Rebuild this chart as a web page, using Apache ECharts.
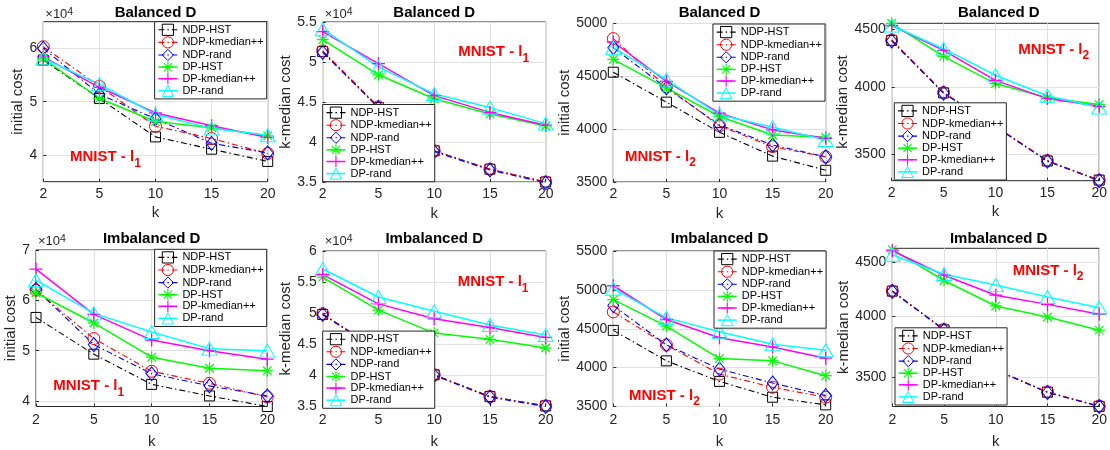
<!DOCTYPE html>
<html><head><meta charset="utf-8">
<script src="https://cdn.jsdelivr.net/npm/echarts@6/dist/echarts.min.js"></script>
<style>html,body{margin:0;padding:0;background:#fff}#c{width:1110px;height:450px}</style>
</head><body><div id="c"></div>
<script>
// ---------------- DATA ----------------
const kLabels = ['2', '5', '10', '15', '20'];
const methodNames = ['NDP-HST', 'NDP-kmedian++', 'NDP-rand', 'DP-HST', 'DP-kmedian++', 'DP-rand'];
const panelTitles = ['Balanced D', 'Balanced D', 'Balanced D', 'Balanced D',
                     'Imbalanced D', 'Imbalanced D', 'Imbalanced D', 'Imbalanced D'];
const panelYNames = ['initial cost', 'k-median cost', 'initial cost', 'k-median cost',
                     'initial cost', 'k-median cost', 'initial cost', 'k-median cost'];
const panelNormIndex = ['1', '1', '2', '2', '1', '1', '2', '2'];   // MNIST - l_n
const panelYTicks = [
  [40000, 50000, 60000],
  [35000, 40000, 45000, 50000, 55000],
  [3500, 4000, 4500, 5000],
  [3500, 4000, 4500],
  [40000, 50000, 60000, 70000],
  [35000, 40000, 45000, 50000, 55000, 60000],
  [3500, 4000, 4500, 5000, 5500],
  [3500, 4000, 4500]
];
const panelYRange = [[35000, 65000], [35000, 55000], [3500, 5000], [3318, 4550],
                     [38900, 70000], [35000, 60000], [3500, 5500], [3284, 4635]];
const panelScaled = [true, true, false, false, true, true, false, false]; // x10^4 labels
const panelLog = [false, false, false, true, false, false, false, true];

// rows: NDP-HST, NDP-kmedian++, NDP-rand, DP-HST, DP-kmedian++, DP-rand
const balancedInitL1 = [
  [57800, 50600, 43400, 41100, 38800],
  [60300, 52900, 45400, 43100, 40300],
  [60000, 51400, 46800, 42200, 40400],
  [58100, 50600, 46300, 45100, 43600],
  [58400, 52700, 47900, 45500, 43300],
  [58100, 53300, 47600, 45000, 43700]
];
const balancedKmedL1 = [
  [51300, 44300, 38900, 36600, 35000],
  [51400, 44400, 38900, 36600, 35000],
  [51200, 44300, 38800, 36500, 34900],
  [52800, 48400, 45400, 43500, 42000],
  [53800, 49800, 45800, 43700, 42100],
  [54100, 49400, 46000, 44300, 42300]
];
const balancedInitL2 = [
  [4539, 4256, 3970, 3745, 3611],
  [4857, 4400, 4031, 3834, 3738],
  [4771, 4390, 4040, 3850, 3738],
  [4660, 4390, 4120, 3945, 3923],
  [4825, 4453, 4151, 3993, 3913],
  [4771, 4469, 4136, 4018, 3897]
];
const balancedKmedL2 = [
  [4396, 3957, 3700, 3452, 3322],
  [4400, 3960, 3702, 3455, 3320],
  [4392, 3955, 3698, 3450, 3318],
  [4550, 4258, 4032, 3918, 3866],
  [4530, 4309, 4058, 3912, 3852],
  [4530, 4324, 4100, 3934, 3843]
];
const imbalancedInitL1 = [
  [56600, 49300, 43300, 41000, 38900],
  [62000, 52400, 45900, 43500, 40800],
  [62200, 51200, 45400, 43000, 41000],
  [61500, 55500, 48700, 46500, 46000],
  [66200, 57200, 52100, 50000, 48300],
  [64000, 57400, 53700, 50400, 50000]
];
const imbalancedKmedL1 = [
  [49800, 44000, 40100, 36600, 35100],
  [49900, 44100, 40100, 36600, 35100],
  [49800, 44000, 40000, 36500, 35000],
  [55800, 50500, 46800, 45800, 44400],
  [56200, 51500, 49100, 47700, 46100],
  [57100, 52600, 50300, 48100, 46500]
];
const imbalancedInitL2 = [
  [4479, 4087, 3823, 3619, 3521],
  [4717, 4292, 3917, 3747, 3619],
  [4798, 4292, 3981, 3802, 3640],
  [4875, 4534, 4117, 4087, 3896],
  [5053, 4619, 4385, 4266, 4121],
  [5015, 4640, 4462, 4300, 4224]
];
const imbalancedKmedL2 = [
  [4222, 3881, 3557, 3388, 3285],
  [4224, 3883, 3558, 3390, 3287],
  [4220, 3879, 3555, 3386, 3284],
  [4621, 4321, 4088, 3991, 3878],
  [4610, 4371, 4185, 4102, 4015],
  [4571, 4380, 4278, 4168, 4073]
];
const panelData = [balancedInitL1, balancedKmedL1, balancedInitL2, balancedKmedL2,
                   imbalancedInitL1, imbalancedKmedL1, imbalancedInitL2, imbalancedKmedL2];

// ---------------- STYLE / LAYOUT ----------------
const F = '"Liberation Sans", Arial, Helvetica, sans-serif';
const AX = '#262626';
const GRIDC = '#e0e0e0';
const ASTERISK = 'path://M0,9H20V11H0Z M9,0H11V20H9Z M3.6,2.2L17.8,16.4L16.4,17.8L2.2,3.6Z M17.8,3.6L3.6,17.8L2.2,16.4L16.4,2.2Z';
const PLUS = 'path://M0,9H20V11H0Z M9,0H11V20H9Z';
const methodColors = ['#000000', '#ff0000', '#0000ff', '#00ff00', '#ff00ff', '#00ffff'];
const methodSymbols = ['rect', 'circle', 'diamond', ASTERISK, PLUS, 'triangle'];
const methodSizes = [10, 12, [11, 14], 12, 13, [15, 13]];
const methodFilled = [false, false, false, true, true, false];
const DASHDOT = [6, 3, 1.5, 3];

const L = [
  {l: 43.3, r: 267.7, t: 21.7, b: 181.7, ylab: 17,  leg: {right: 843.3, top: 21.7}, tag: [70, 157.3]},
  {l: 322.7, r: 545.7, t: 22, b: 182, ylab: 290, leg: {left: 322.7, bottom: 268.3}, tag: [458.3, 52]},
  {l: 613.3, r: 825.7, t: 23.5, b: 182, ylab: 567, leg: {right: 285, top: 24}, tag: [625, 156.5]},
  {l: 891.7, r: 1106, t: 23.3, b: 180.7, ylab: 846, leg: {left: 894.3, bottom: 270}, tag: [1018.3, 49.5]},
  {l: 36, r: 267.3, t: 250, b: 408, ylab: 13, leg: {right: 843.3, top: 249.3}, tag: [53.3, 386]},
  {l: 322.7, r: 545.7, t: 251, b: 408.3, ylab: 290, leg: {left: 322.7, bottom: 41.7}, tag: [457.7, 282]},
  {l: 613.3, r: 825.7, t: 251, b: 407.7, ylab: 567, leg: {left: 714, top: 251}, tag: [629, 395.5]},
  {l: 892.3, r: 1105, t: 248.3, b: 407.7, ylab: 847, leg: {left: 895, bottom: 45}, tag: [1012.7, 270.5]}
];

const grids = [], xAxes = [], yAxes = [], series = [], legends = [], graphics = [];
for (let i = 0; i < 8; i++) {
  const g = L[i];
  const topRow = i < 4;
  const scaled = panelScaled[i];
  grids.push({left: g.l, top: g.t, width: g.r - g.l, height: g.b - g.t,
    show: true, borderColor: AX, borderWidth: 1, containLabel: false});
  xAxes.push({
    type: 'category', gridIndex: i, data: kLabels, boundaryGap: false,
    name: 'k', nameLocation: 'middle', nameGap: topRow ? 24 : 27.5,
    nameTextStyle: {fontSize: 15, color: AX, fontFamily: F},
    axisLine: {show: false},
    axisTick: {show: true, inside: true, length: 3, lineStyle: {color: AX}},
    axisLabel: {fontSize: 14, color: AX, fontFamily: F, margin: topRow ? 5 : 7},
    splitLine: {show: true, lineStyle: {color: GRIDC, width: 1}}
  });
  yAxes.push({
    type: panelLog[i] ? 'log' : 'value', logBase: 10, gridIndex: i,
    min: panelYRange[i][0], max: panelYRange[i][1],
    name: panelYNames[i], nameLocation: 'middle', nameGap: g.l - g.ylab - 8,
    nameTextStyle: {fontSize: 15, color: AX, fontFamily: F},
    axisLine: {show: false},
    axisTick: {show: true, inside: true, length: 3, customValues: panelYTicks[i], lineStyle: {color: AX}},
    axisLabel: {customValues: panelYTicks[i], fontSize: 14, color: AX, fontFamily: F, margin: 6,
      formatter: v => scaled ? String(Math.round(v / 1000) / 10) : String(Math.round(v))},
    splitLine: {show: true, lineStyle: {color: GRIDC, width: 1}}
  });
  for (let j = 0; j < 6; j++) {
    const c = methodColors[j];
    const ndp = j < 3;
    series.push({
      type: 'line', name: methodNames[j], xAxisIndex: i, yAxisIndex: i,
      data: panelData[i][j], symbol: methodSymbols[j], symbolSize: methodSizes[j],
      clip: false, silent: true, animation: false, emphasis: {disabled: true},
      lineStyle: {color: c, width: ndp ? 1.1 : 1.5, type: ndp ? DASHDOT : 'solid'},
      itemStyle: methodFilled[j] ? {color: c, borderWidth: 0}
                                 : {color: 'rgba(255,255,255,0)', borderColor: c, borderWidth: 1}
    });
  }
  legends.push(Object.assign({
    orient: 'vertical', selectedMode: false,
    backgroundColor: '#ffffff', borderColor: AX, borderWidth: 1,
    padding: [2, 3, 2, 3], itemWidth: 19, itemHeight: 14, itemGap: 0.4,
    textStyle: {fontSize: 11, color: '#000', fontFamily: F},
    data: methodNames.map((n, j) => ({
      name: n,
      itemStyle: methodFilled[j] ? {color: methodColors[j], borderWidth: 0}
                                 : {color: 'rgba(255,255,255,0)', borderColor: methodColors[j], borderWidth: 1},
      lineStyle: {color: methodColors[j], width: j < 3 ? 1.1 : 1.5, type: j < 3 ? DASHDOT : 'solid'}
    })),
    z: 10
  }, g.leg));
  // title
  graphics.push({type: 'text', x: (g.l + g.r) / 2, y: topRow ? 13 : 239, z: 100, silent: true,
    style: {text: panelTitles[i], font: 'bold 15px ' + F, fill: '#000', align: 'center', verticalAlign: 'middle'}});
  // exponent
  if (scaled) {
    graphics.push({type: 'text', x: g.l + 2, y: topRow ? 14.5 : 241.8, z: 100, silent: true,
      style: {text: '{a|×10}{b|4}', align: 'left', verticalAlign: 'middle',
        rich: {a: {fontSize: 13, fontFamily: F, fill: AX, lineHeight: 16, verticalAlign: 'middle'},
               b: {fontSize: 10.5, fontFamily: F, fill: AX, lineHeight: 10.5, verticalAlign: 'top'}}}});
  }
  // dataset tag
  graphics.push({type: 'text', x: g.tag[0], y: g.tag[1], z: 100, silent: true,
    style: {text: '{m|MNIST - l}{s|' + panelNormIndex[i] + '}', align: 'left', verticalAlign: 'middle',
      rich: {m: {fontSize: 15, fontWeight: 'bold', fontFamily: F, fill: '#ff0000', lineHeight: 25, verticalAlign: 'middle'},
             s: {fontSize: 12, fontWeight: 'bold', fontFamily: F, fill: '#ff0000', lineHeight: 12, verticalAlign: 'bottom'}}}});
}

const chart = echarts.init(document.getElementById('c'), null, {renderer: 'canvas'});
chart.setOption({
  animation: false,
  backgroundColor: '#ffffff',
  grid: grids, xAxis: xAxes, yAxis: yAxes, series: series, legend: legends, graphic: graphics
});
</script></body></html>
